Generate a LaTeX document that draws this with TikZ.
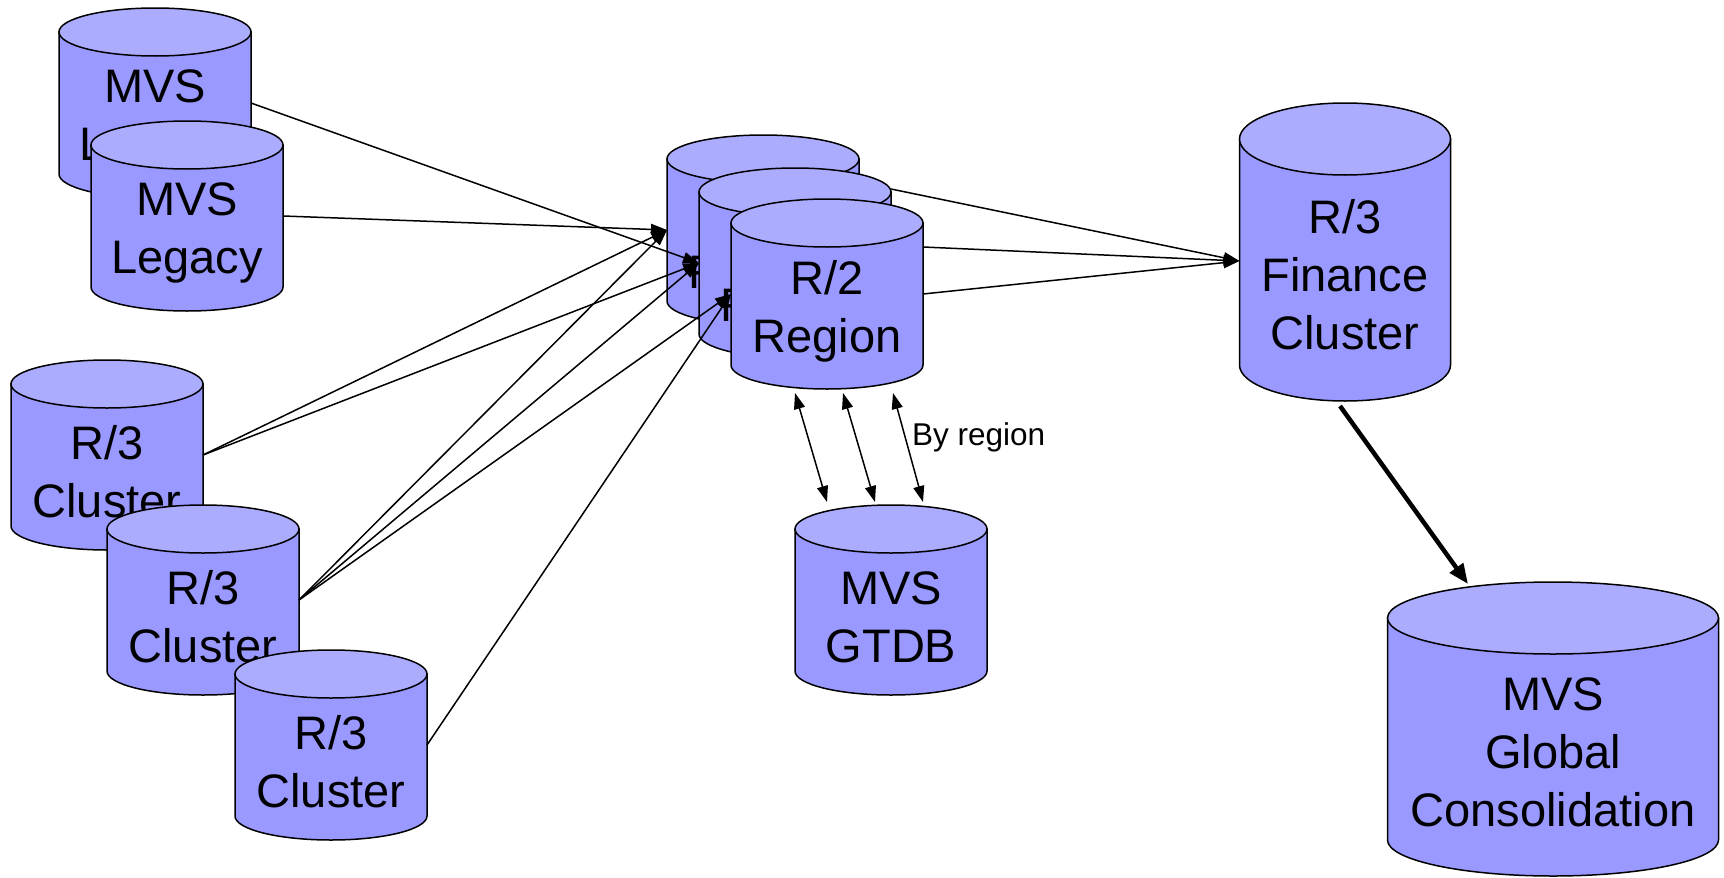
\documentclass[tikz,border=0pt]{standalone}
\usepackage{fontspec}
\setmainfont{Liberation Sans}
\usepackage{tikz}
\usetikzlibrary{arrows.meta, calc}

\definecolor{canbody}{RGB}{153,153,255}
\definecolor{cantop}{RGB}{172,172,255}

\begin{document}
\begin{tikzpicture}[x=1pt, y=-1pt, >={Triangle[length=16pt, width=11pt]}]
    \tikzset{
      canline/.style={draw=black, line width=1.5pt},
      cantext/.style={font=\fontsize{47}{58}\selectfont, align=center, inner sep=0pt},
      conn/.style={->, line width=1.5pt},
      pics/dbcan/.style n args={4}{code={
        \filldraw[canline, fill=canbody] (-#1/2,#3) -- (-#1/2,#2-#3)
          arc[start angle=180, end angle=0, x radius=#1/2, y radius=#3] -- (#1/2,#3) -- cycle;
        \filldraw[canline, fill=cantop] (0,#3) ellipse[x radius=#1/2, y radius=#3];
        \node[inner sep=0pt, outer sep=0pt, minimum width=#1, minimum height=#2] (-box) at (0,#2/2) {};
        \node[cantext] (-txt) at (0,{(#2+#3)/2+5}) {#4};
      }}}
    \useasboundingbox (0,0) rectangle (1724,878);
    % legacy sources
    \pic (leg1) at (155,8)   {dbcan={192}{190}{24}{MVS\\Legacy}};
    \pic (leg2) at (187,121) {dbcan={192}{190}{24}{MVS\\Legacy}};
    % R/3 clusters
    \pic (clu1) at (107,360) {dbcan={192}{190}{24}{R/3\\Cluster}};
    \pic (clu2) at (203,505) {dbcan={192}{190}{24}{R/3\\Cluster}};
    \pic (clu3) at (331,650) {dbcan={192}{190}{24}{R/3\\Cluster}};
    % R/2 regions
    \pic (reg1) at (763,135) {dbcan={192}{190}{24}{R/2\\Region}};
    \pic (reg2) at (795,168) {dbcan={192}{190}{24}{R/2\\Region}};
    \pic (reg3) at (827,199) {dbcan={192}{190}{24}{R/2\\Region}};
    \pic (gtdb) at (891,505) {dbcan={192}{190}{24}{MVS\\GTDB}};
    % finance and consolidation
    \pic (fin)  at (1345,103) {dbcan={211}{298}{36}{R/3\\Finance\\Cluster}};
    \pic (glob) at (1553,582) {dbcan={331}{294}{36}{MVS\\Global\\Consolidation}};

    \draw[conn] (leg1-box.east) -- (reg2-box.west);
    \draw[conn] (leg2-box.east) -- (reg1-box.west);
    \draw[conn] (clu1-box.east) -- (reg1-box.west);
    \draw[conn] (clu1-box.east) -- (reg2-box.west);
    \draw[conn] (clu2-box.east) -- (reg1-box.west);
    \draw[conn] (clu2-box.east) -- (reg2-box.west);
    \draw[conn] (clu2-box.east) -- (reg3-box.west);
    \draw[conn] (clu3-box.east) -- (reg3-box.west);
    \draw[conn] ($(reg2-box.north east)+(0,21)$) -- ($(fin-box.west)+(0,9)$);
    \draw[conn] ($(reg3-box.north east)+(0,48)$) -- ($(fin-box.west)+(0,9)$);
    \draw[conn] (reg3-box.east) -- ($(fin-box.west)+(0,9)$);
    \draw[-{Triangle[length=20pt, width=16pt]}, line width=4.5pt]
      ($(fin-box.south)+(-5,5)$) -- ($(glob-box.north)+(-85,2)$);
    \draw[conn, <->] ($(reg3-box.south)+(-32,4)$) -- ($(gtdb-box.north)+(-64,-3)$);
    \draw[conn, <->] ($(reg3-box.south)+(16,4)$) -- ($(gtdb-box.north)+(-16,-3)$);
    \draw[conn, <->] ($(reg3-box.south)+(66,4)$) -- ($(gtdb-box.north)+(32,-3)$);
    \node[font=\fontsize{31.5}{38}\selectfont, anchor=west, inner sep=0pt] (byreg) at (912,437) {By region};
\end{tikzpicture}
\end{document}
